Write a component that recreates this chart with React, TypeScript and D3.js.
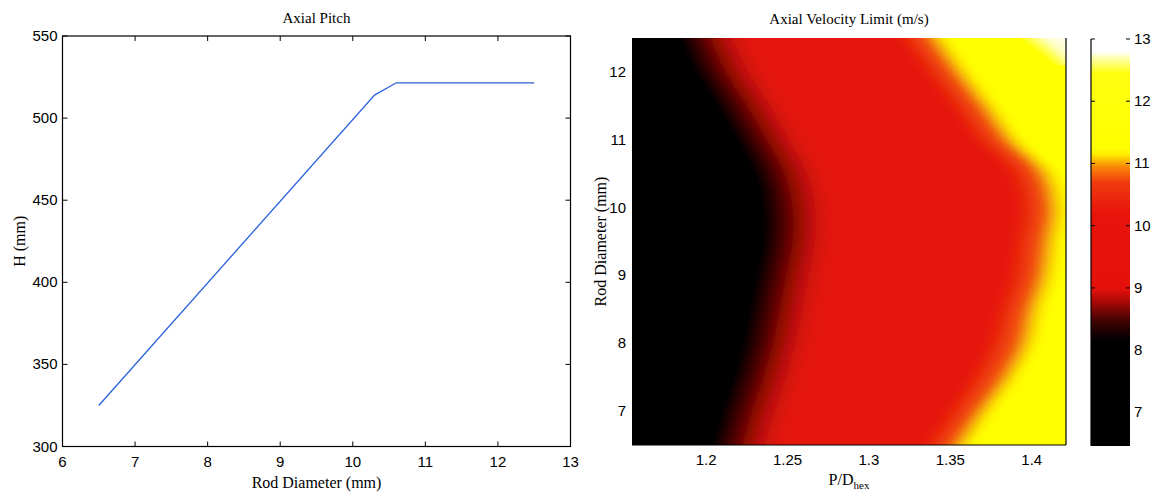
import React from "react";
import * as d3 from "d3";

// ---------- Left chart: Axial Pitch ----------
const pitchRodDiameter = [6.5, 10.3, 10.6, 12.5];
const pitchH = [325, 514, 521.5, 521.5];
const pitchXTicks = [6, 7, 8, 9, 10, 11, 12, 13];
const pitchYTicks = [300, 350, 400, 450, 500, 550];

// ---------- Right chart: Axial Velocity Limit (m/s) ----------
// Rows of rod diameter (mm) and the P/D_hex positions where the field crosses
// the main colour levels.
const rodRows = [6.5, 7, 7.5, 8, 8.5, 9, 9.5, 10, 10.5, 11, 11.5, 12, 12.5];
const blackRedEdge = [1.229, 1.235, 1.242, 1.248, 1.252, 1.256, 1.26, 1.26, 1.255, 1.244, 1.232, 1.219, 1.209];
const redOrangeEdge = [1.34, 1.354, 1.368, 1.379, 1.385, 1.392, 1.395, 1.398, 1.392, 1.371, 1.356, 1.34, 1.325];
const yellowEdge = [1.357, 1.371, 1.386, 1.397, 1.402, 1.409, 1.412, 1.415, 1.409, 1.388, 1.373, 1.357, 1.342];
const whiteRows = [12.1, 12.3, 12.5];
const whiteEdge = [1.426, 1.416, 1.405];

const pdTicks = [1.2, 1.25, 1.3, 1.35, 1.4];
const rodTicks = [7, 8, 9, 10, 11, 12];
const cbarTicks = [7, 8, 9, 10, 11, 12, 13];
const cbarStopValues = [6.46, 8.15, 8.45, 8.75, 8.98, 10.2, 10.7, 10.95, 11.15, 11.25, 12.45, 12.7, 12.8, 13];
const cbarStopColors = ["#000000", "#000000", "#3a0202", "#a00806", "#e4100a", "#e8140c", "#f03c10", "#fa8a06", "#ffee00", "#ffff00", "#ffff10", "#ffffb0", "#ffffff", "#ffffff"];

const SANS = "'Liberation Sans', Arial, sans-serif";
const SERIF = "'Liberation Serif', 'Times New Roman', serif";

export default function App() {
  // left scales
  const xL = d3.scaleLinear().domain([6, 13]).range([62.5, 570.5]);
  const yL = d3.scaleLinear().domain([300, 550]).range([446.5, 36]);
  const pitchPts = pitchRodDiameter.map((d, i) => [d, pitchH[i]] as [number, number]);
  const pitchLine = d3.line<[number, number]>().x((d) => xL(d[0])).y((d) => yL(d[1]))(pitchPts) || "";

  // right scales
  const hx0 = 632, hx1 = 1066, hy0 = 38, hy1 = 445;
  const xR = d3.scaleLinear().domain([1.1545, 1.421]).range([hx0, hx1]);
  const yR = d3.scaleLinear().domain([6.5, 12.5]).range([hy1, hy0]);
  const extR = hx1 + 80;

  const bandArea = (rows: number[], edge: number[]) =>
    d3
      .area<number>()
      .y((d) => yR(d))
      .x0((d, i) => xR(edge[i]))
      .x1(() => extR)
      .curve(d3.curveCatmullRom.alpha(0.5))(rows) || "";

  const cbx0 = 1091, cbx1 = 1130;
  const yC = d3.scaleLinear().domain([6.46, 13]).range([446, 39]);

  return (
    <svg
      width={1152}
      height={492}
      style={{ position: "absolute", left: 0, top: 0, background: "#ffffff" }}
    >
      <defs>
        <clipPath id="heatClip">
          <rect x={hx0} y={hy0} width={hx1 - hx0} height={hy1 - hy0} />
        </clipPath>
        <filter id="blurA" filterUnits="userSpaceOnUse" x={hx0 - 100} y={hy0 - 20} width={hx1 - hx0 + 250} height={hy1 - hy0 + 40}>
          <feGaussianBlur stdDeviation="17 0" />
        </filter>
        <filter id="blurB" filterUnits="userSpaceOnUse" x={hx0 - 100} y={hy0 - 20} width={hx1 - hx0 + 250} height={hy1 - hy0 + 40}>
          <feGaussianBlur stdDeviation="9 0" />
        </filter>
        <linearGradient id="cbarGrad" x1="0" y1="1" x2="0" y2="0">
          {cbarStopValues.map((v, i) => (
            <stop key={i} offset={(v - 6.46) / (13 - 6.46)} stopColor={cbarStopColors[i]} />
          ))}
        </linearGradient>
      </defs>

      {/* ---------------- Left chart ---------------- */}
      <text x={(xL(6) + xL(13)) / 2} y={23} textAnchor="middle" fontFamily={SERIF} fontSize={15}>
        Axial Pitch
      </text>
      <path d={pitchLine} fill="none" stroke="#2a62d8" strokeWidth={1.3} />
      <rect x={xL(6)} y={yL(550)} width={xL(13) - xL(6)} height={yL(300) - yL(550)} fill="none" stroke="#000" strokeWidth={1.2} />
      {pitchXTicks.map((t) => (
        <g key={"xl" + t}>
          <line x1={xL(t)} x2={xL(t)} y1={yL(300)} y2={yL(300) - 5} stroke="#000" />
          <line x1={xL(t)} x2={xL(t)} y1={yL(550)} y2={yL(550) + 5} stroke="#000" />
          <text x={xL(t)} y={467} textAnchor="middle" fontFamily={SANS} fontSize={15}>
            {t}
          </text>
        </g>
      ))}
      {pitchYTicks.map((t) => (
        <g key={"yl" + t}>
          <line x1={xL(6)} x2={xL(6) + 5} y1={yL(t)} y2={yL(t)} stroke="#000" />
          <line x1={xL(13)} x2={xL(13) - 5} y1={yL(t)} y2={yL(t)} stroke="#000" />
          <text x={xL(6) - 5} y={yL(t) + 5} textAnchor="end" fontFamily={SANS} fontSize={15}>
            {t}
          </text>
        </g>
      ))}
      <text x={(xL(6) + xL(13)) / 2} y={488} textAnchor="middle" fontFamily={SERIF} fontSize={16}>
        Rod Diameter (mm)
      </text>
      <text
        transform={`translate(25,${(yL(300) + yL(550)) / 2}) rotate(-90)`}
        textAnchor="middle"
        fontFamily={SERIF}
        fontSize={16}
      >
        H (mm)
      </text>

      {/* ---------------- Right chart ---------------- */}
      <text x={(hx0 + hx1) / 2} y={24} textAnchor="middle" fontFamily={SERIF} fontSize={15}>
        Axial Velocity Limit (m/s)
      </text>
      <g clipPath="url(#heatClip)">
        <g filter="url(#blurA)">
          <rect x={hx0 - 90} y={hy0} width={hx1 - hx0 + 240} height={hy1 - hy0} fill="#000000" />
          <path d={bandArea(rodRows, blackRedEdge)} fill="#e6120b" />
        </g>
        <g filter="url(#blurB)">
          <path d={bandArea(rodRows, redOrangeEdge)} fill="#f04810" />
          <path d={bandArea(rodRows, yellowEdge)} fill="#ffff00" />
          <path d={bandArea(whiteRows, whiteEdge)} fill="#fffde0" />
        </g>
      </g>
      <line x1={hx1} x2={hx1} y1={hy0} y2={hy1} stroke="#000" strokeWidth={1.2} />
      <line x1={hx0} x2={hx1} y1={hy1} y2={hy1} stroke="#000" strokeWidth={1.2} />
      {pdTicks.map((t) => (
        <text key={"xr" + t} x={xR(t)} y={465} textAnchor="middle" fontFamily={SANS} fontSize={15}>
          {t}
        </text>
      ))}
      {rodTicks.map((t) => (
        <text key={"yr" + t} x={hx0 - 6} y={yR(t) + 5} textAnchor="end" fontFamily={SANS} fontSize={15}>
          {t}
        </text>
      ))}
      <text x={(hx0 + hx1) / 2} y={485} textAnchor="middle" fontFamily={SERIF} fontSize={16}>
        P/D
        <tspan fontSize={11} dy={4}>
          hex
        </tspan>
      </text>
      <text
        transform={`translate(606,${(hy0 + hy1) / 2}) rotate(-90)`}
        textAnchor="middle"
        fontFamily={SERIF}
        fontSize={16}
      >
        Rod Diameter (mm)
      </text>

      {/* ---------------- Colour bar ---------------- */}
      <rect x={cbx0} y={yC(13)} width={cbx1 - cbx0} height={yC(6.46) - yC(13)} fill="url(#cbarGrad)" />
      <line x1={cbx0} x2={cbx0} y1={yC(13)} y2={yC(6.46)} stroke="#000" strokeWidth={1.2} />
      {cbarTicks.map((t) => (
        <g key={"cb" + t}>
          <line x1={cbx0} x2={cbx0 + 4} y1={yC(t)} y2={yC(t)} stroke="#000" />
          <line x1={cbx1 - 4} x2={cbx1} y1={yC(t)} y2={yC(t)} stroke="#000" />
          <text x={cbx1 + 4} y={yC(t) + 5} fontFamily={SANS} fontSize={15}>
            {t}
          </text>
        </g>
      ))}
    </svg>
  );
}
